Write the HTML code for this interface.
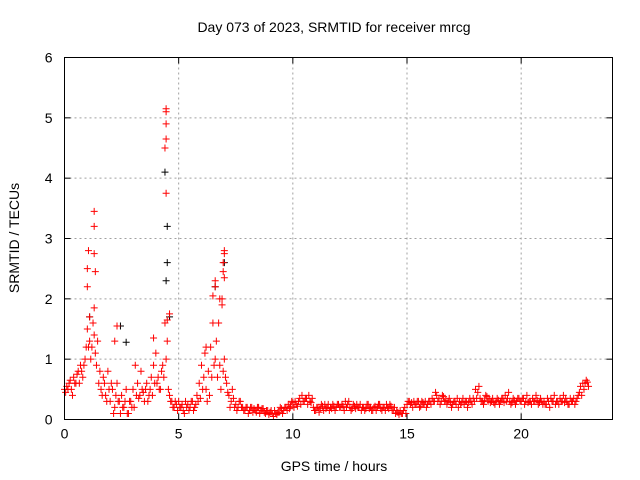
<!DOCTYPE html>
<html><head><meta charset="utf-8">
<style>
html,body{margin:0;padding:0;background:#fff;}
svg{display:block;font-family:"Liberation Sans",sans-serif;}
</style></head>
<body>
<svg id="chart" width="640" height="480" viewBox="0 0 640 480" xmlns="http://www.w3.org/2000/svg">
<text x="334" y="32" font-size="14" text-anchor="middle">Day 073 of 2023, SRMTID for receiver mrcg</text>
<text x="334" y="471" font-size="14" text-anchor="middle">GPS time / hours</text>
<text x="19" y="238" font-size="14" text-anchor="middle" transform="rotate(-90 19 238)">SRMTID / TECUs</text>
<g id="grid"></g>
<g id="axes"></g>
<g id="marks"></g>
<rect x="64.5" y="57.5" width="548" height="362" fill="none" stroke="#000" stroke-width="1"/>
</svg>
<script>
const xTicks=[0,5,10,15,20];
const yTicks=[0,1,2,3,4,5,6];
const tStep=0.1;
const seriesA=[0.5,0.55,0.6,0.5,0.7,0.6,0.8,0.9,0.7,1.0,
1.5,1.3,1.2,1.4,0.9,0.6,0.5,0.7,0.4,0.8,
0.3,0.5,0.2,0.6,0.3,0.4,0.2,0.5,0.1,0.3,
0.5,0.9,0.6,0.4,0.5,0.3,0.6,0.4,0.7,0.9,
1.1,0.7,0.5,0.9,1.6,1.3,0.4,0.3,0.2,0.25,
0.3,0.2,0.15,0.3,0.25,0.2,0.3,0.2,0.4,0.6,
0.9,0.7,0.5,0.8,1.2,1.6,1.0,0.7,0.9,1.9,
1.0,0.6,0.4,0.3,0.35,0.25,0.2,0.3,0.2,0.15,
0.2,0.15,0.2,0.18,0.12,0.2,0.15,0.18,0.1,0.15,
0.12,0.1,0.15,0.08,0.12,0.18,0.15,0.2,0.25,0.22,
0.28,0.3,0.22,0.35,0.4,0.3,0.35,0.4,0.28,0.2,
0.15,0.2,0.18,0.22,0.25,0.2,0.15,0.18,0.22,0.2,
0.25,0.2,0.22,0.3,0.25,0.2,0.18,0.22,0.25,0.2,
0.15,0.2,0.18,0.25,0.2,0.15,0.22,0.2,0.25,0.15,
0.2,0.25,0.18,0.22,0.15,0.1,0.12,0.15,0.1,0.2,
0.25,0.3,0.28,0.3,0.25,0.3,0.22,0.28,0.3,0.25,
0.3,0.35,0.3,0.4,0.35,0.3,0.38,0.32,0.3,0.28,
0.25,0.3,0.35,0.3,0.28,0.25,0.3,0.28,0.3,0.35,
0.5,0.45,0.35,0.3,0.32,0.38,0.35,0.3,0.28,0.3,
0.32,0.3,0.35,0.4,0.35,0.3,0.28,0.32,0.3,0.35,
0.3,0.35,0.3,0.28,0.3,0.35,0.3,0.32,0.28,0.3,
0.3,0.25,0.3,0.35,0.3,0.25,0.3,0.35,0.3,0.28,
0.3,0.25,0.3,0.35,0.3,0.4,0.55,0.6,0.6,0.62];
const seriesB=[0.45,0.5,0.65,0.4,0.6,0.75,0.6,0.8,0.9,1.2,
1.2,1.0,1.6,1.1,1.3,0.8,0.4,0.6,0.3,0.5,
0.6,0.1,0.4,0.3,0.1,0.2,0.3,0.1,0.3,0.2,
0.2,0.4,0.35,0.8,0.45,0.5,0.3,0.5,0.4,0.6,
0.6,0.5,0.8,0.7,1.0,0.5,0.3,0.2,0.3,0.15,
0.2,0.25,0.1,0.2,0.15,0.3,0.15,0.25,0.3,0.35,
0.5,1.1,0.3,0.4,0.7,0.9,1.3,1.6,0.5,0.8,
0.7,0.45,0.2,0.5,0.2,0.15,0.3,0.2,0.15,0.2,
0.1,0.2,0.12,0.15,0.2,0.1,0.18,0.12,0.15,0.08,
0.15,0.05,0.1,0.12,0.2,0.1,0.2,0.15,0.18,0.3,
0.2,0.25,0.3,0.25,0.3,0.35,0.25,0.3,0.35,0.15,
0.2,0.12,0.25,0.15,0.18,0.25,0.2,0.25,0.15,0.25,
0.2,0.25,0.15,0.2,0.3,0.15,0.25,0.18,0.2,0.25,
0.2,0.15,0.25,0.18,0.15,0.2,0.15,0.25,0.18,0.2,
0.15,0.2,0.25,0.15,0.2,0.15,0.08,0.1,0.15,0.1,
0.3,0.25,0.2,0.25,0.3,0.2,0.3,0.25,0.2,0.3,
0.25,0.3,0.45,0.3,0.25,0.4,0.3,0.25,0.35,0.2,
0.3,0.25,0.2,0.25,0.35,0.3,0.2,0.35,0.25,0.3,
0.35,0.55,0.3,0.25,0.4,0.3,0.28,0.35,0.25,0.35,
0.25,0.35,0.28,0.3,0.45,0.25,0.35,0.25,0.35,0.3,
0.35,0.25,0.4,0.3,0.25,0.3,0.4,0.25,0.35,0.25,
0.25,0.35,0.2,0.3,0.4,0.3,0.25,0.3,0.4,0.35,
0.25,0.35,0.3,0.25,0.35,0.45,0.4,0.5,0.65,0.55];
const spikeT=[1.0,1.0,1.05,1.3,1.3,1.3,1.35,1.3,1.1,4.45,4.45,4.45,4.45,4.4,4.45,4.5,4.6,6.6,6.6,6.5,7.0,7.0,6.95,6.95,7.0,6.8,2.2,2.3,3.9,6.2,6.9];
const spikeV=[2.2,2.5,2.8,3.45,3.2,2.75,2.45,1.85,1.7,5.15,5.1,4.9,4.65,4.5,3.75,1.65,1.75,2.3,2.2,2.05,2.8,2.75,2.6,2.45,2.35,2.0,1.3,1.55,1.35,1.2,2.0];
const blackT=[4.4,4.5,4.5,4.45,1.1,2.45,2.7,6.6,7.0,4.6];
const blackV=[4.1,3.2,2.6,2.3,1.7,1.55,1.28,2.2,2.6,1.7];

const X0=64.5,X1=612.5,Y0=419.5,Y1=57.5;
const xMax=24,yMax=6;
function xs(t){return X0+(t/xMax)*(X1-X0);}
function ys(v){return Y0-(v/yMax)*(Y0-Y1);}
const NS="http://www.w3.org/2000/svg";
const grid=document.getElementById('grid');
const axes=document.getElementById('axes');
const marks=document.getElementById('marks');
function mk(tag,attrs,parent){const e=document.createElementNS(NS,tag);for(const k in attrs)e.setAttribute(k,attrs[k]);parent.appendChild(e);return e;}

xTicks.forEach(t=>{
  const x=xs(t);
  if(t>0){const g=mk('line',{x1:x,x2:x,y1:Y0,y2:Y1,stroke:'#a0a0a0','stroke-dasharray':'2,3'},grid);
  
  }
  const a=mk('line',{x1:x,x2:x,y1:Y0,y2:Y0-6,stroke:'#000'},axes);
  
  
  const b=mk('line',{x1:x,x2:x,y1:Y1,y2:Y1+6,stroke:'#000'},axes);
  
  
  const l=mk('text',{x:x,y:Y0+19,'font-size':14,'text-anchor':'middle'},axes);
  l.textContent=t;
  
  
});
yTicks.forEach(v=>{
  const y=ys(v);
  if(v>0&&v<yMax){const g=mk('line',{x1:X0,x2:X1,y1:y,y2:y,stroke:'#a0a0a0','stroke-dasharray':'2,3'},grid);
  
  }
  const a=mk('line',{x1:X0,x2:X0+6,y1:y,y2:y,stroke:'#000'},axes);
  
  
  const b=mk('line',{x1:X1,x2:X1-6,y1:y,y2:y,stroke:'#000'},axes);
  
  
  const l=mk('text',{x:X0-12,y:y+5,'font-size':14,'text-anchor':'end'},axes);
  l.textContent=v;
  
  
});
function plus(t,v,color,name){
  const x=xs(t),y=ys(v);
  const p=mk('path',{d:`M${x-3.5},${y}H${x+3.5}M${x},${y-3.5}V${y+3.5}`,stroke:color,'stroke-width':1,fill:'none'},marks);
  
  
}
seriesA.forEach((v,i)=>plus(i*tStep,v,'#ff0000','srmtid-point'));
seriesB.forEach((v,i)=>plus(i*tStep+0.05,v,'#ff0000','srmtid-point'));
blackT.forEach((t,i)=>plus(t,blackV[i],'#000000','srmtid-point-black'));
spikeT.forEach((t,i)=>plus(t,spikeV[i],'#ff0000','srmtid-spike'));
</script>
</body></html>
